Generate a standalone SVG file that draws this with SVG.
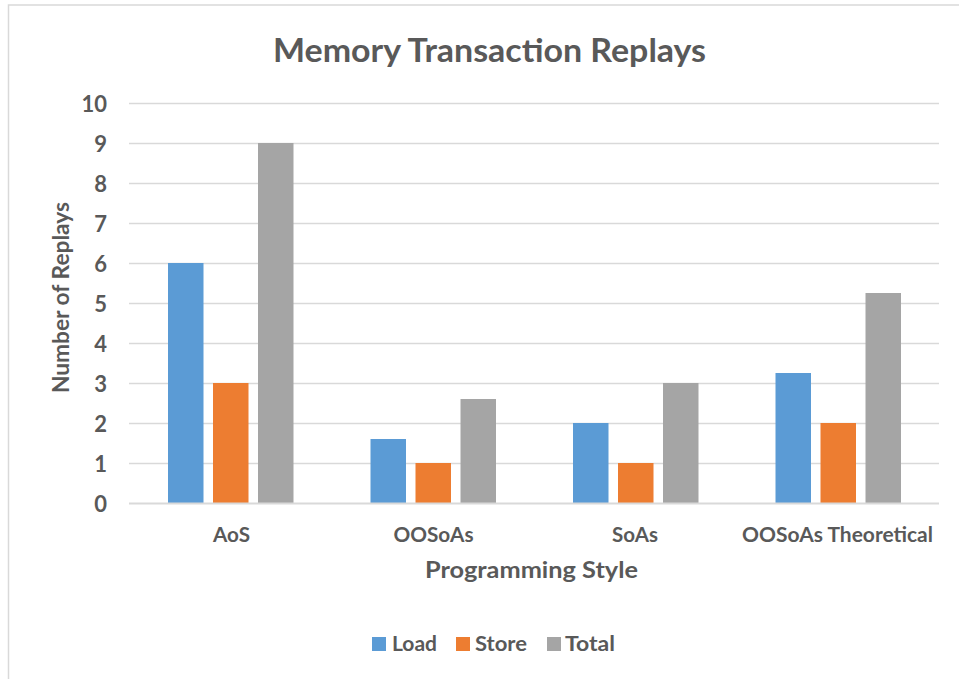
<svg xmlns="http://www.w3.org/2000/svg" width="959" height="679" viewBox="0 0 959 679">
  <style>
    text { font-family: Lato, "Liberation Sans", sans-serif; font-weight: bold; fill: #595959; }
    .grid { stroke: #d9d9d9; stroke-width: 1.5; }
    .axis { stroke: #d9d9d9; stroke-width: 2; }
    .tick { font-size: 22px; text-anchor: end; }
    .cat { font-size: 20px; text-anchor: middle; }
    .leg { font-size: 21px; }
    .load { fill: #5b9bd5; }
    .store { fill: #ed7d31; }
    .total { fill: #a5a5a5; }
  </style>

  <!-- chart area -->
  <rect x="0" y="0" width="959" height="679" fill="#ffffff"/>
  <rect x="8.5" y="5" width="960" height="690" fill="#ffffff" stroke="#d9d9d9" stroke-width="1.5"/>

  <!-- title -->
  <text x="489.5" y="61.5" font-size="33" text-anchor="middle" textLength="433" lengthAdjust="spacingAndGlyphs">Memory Transaction Replays</text>

  <!-- horizontal gridlines: y = 503 - 40 * value -->
  <g id="gridlines">
    <line class="grid" x1="129" y1="103.5" x2="939" y2="103.5"/>
    <line class="grid" x1="129" y1="143.5" x2="939" y2="143.5"/>
    <line class="grid" x1="129" y1="183.5" x2="939" y2="183.5"/>
    <line class="grid" x1="129" y1="223.5" x2="939" y2="223.5"/>
    <line class="grid" x1="129" y1="263.5" x2="939" y2="263.5"/>
    <line class="grid" x1="129" y1="303.5" x2="939" y2="303.5"/>
    <line class="grid" x1="129" y1="343.5" x2="939" y2="343.5"/>
    <line class="grid" x1="129" y1="383.5" x2="939" y2="383.5"/>
    <line class="grid" x1="129" y1="423.5" x2="939" y2="423.5"/>
    <line class="grid" x1="129" y1="463.5" x2="939" y2="463.5"/>
  </g>

  <!-- value axis labels -->
  <g id="y-ticks">
    <text class="tick" x="107" y="111.5">10</text>
    <text class="tick" x="107" y="151.5">9</text>
    <text class="tick" x="107" y="191.5">8</text>
    <text class="tick" x="107" y="231.5">7</text>
    <text class="tick" x="107" y="271.5">6</text>
    <text class="tick" x="107" y="311.5">5</text>
    <text class="tick" x="107" y="351.5">4</text>
    <text class="tick" x="107" y="391.5">3</text>
    <text class="tick" x="107" y="431.5">2</text>
    <text class="tick" x="107" y="471.5">1</text>
    <text class="tick" x="107" y="511.5">0</text>
  </g>

  <!-- bars -->
  <g id="series-load">
    <rect class="load" x="168" y="263" width="35.5" height="240"/>
    <rect class="load" x="370.5" y="439" width="35.5" height="64"/>
    <rect class="load" x="573" y="423" width="35.5" height="80"/>
    <rect class="load" x="775.5" y="373" width="35.5" height="130"/>
  </g>
  <g id="series-store">
    <rect class="store" x="213" y="383" width="35.5" height="120"/>
    <rect class="store" x="415.5" y="463" width="35.5" height="40"/>
    <rect class="store" x="618" y="463" width="35.5" height="40"/>
    <rect class="store" x="820.5" y="423" width="35.5" height="80"/>
  </g>
  <g id="series-total">
    <rect class="total" x="258" y="143" width="35.5" height="360"/>
    <rect class="total" x="460.5" y="399" width="35.5" height="104"/>
    <rect class="total" x="663" y="383" width="35.5" height="120"/>
    <rect class="total" x="865.5" y="293" width="35.5" height="210"/>
  </g>

  <!-- category axis -->
  <line class="axis" x1="129" y1="503.5" x2="939" y2="503.5"/>
  <g id="x-ticks">
    <text class="cat" x="231.5" y="541.5" textLength="37" lengthAdjust="spacingAndGlyphs">AoS</text>
    <text class="cat" x="433.5" y="541.5" textLength="80" lengthAdjust="spacingAndGlyphs">OOSoAs</text>
    <text class="cat" x="635" y="541.5" textLength="46" lengthAdjust="spacingAndGlyphs">SoAs</text>
    <text class="cat" x="837.5" y="541.5" textLength="191" lengthAdjust="spacingAndGlyphs">OOSoAs Theoretical</text>
  </g>

  <!-- axis titles -->
  <text x="531.5" y="578" font-size="22" text-anchor="middle" textLength="213" lengthAdjust="spacingAndGlyphs">Programming Style</text>
  <text transform="translate(68.5 297.5) rotate(-90)" font-size="22" text-anchor="middle" textLength="191" lengthAdjust="spacingAndGlyphs">Number of Replays</text>

  <!-- legend -->
  <g id="legend">
    <rect class="load" x="372" y="637" width="14" height="14"/>
    <text class="leg" x="392" y="650.5" textLength="45" lengthAdjust="spacingAndGlyphs">Load</text>
    <rect class="store" x="456" y="637" width="14" height="14"/>
    <text class="leg" x="475" y="650.5" textLength="52" lengthAdjust="spacingAndGlyphs">Store</text>
    <rect class="total" x="547" y="637" width="14" height="14"/>
    <text class="leg" x="565" y="650.5" textLength="50" lengthAdjust="spacingAndGlyphs">Total</text>
  </g>
</svg>
